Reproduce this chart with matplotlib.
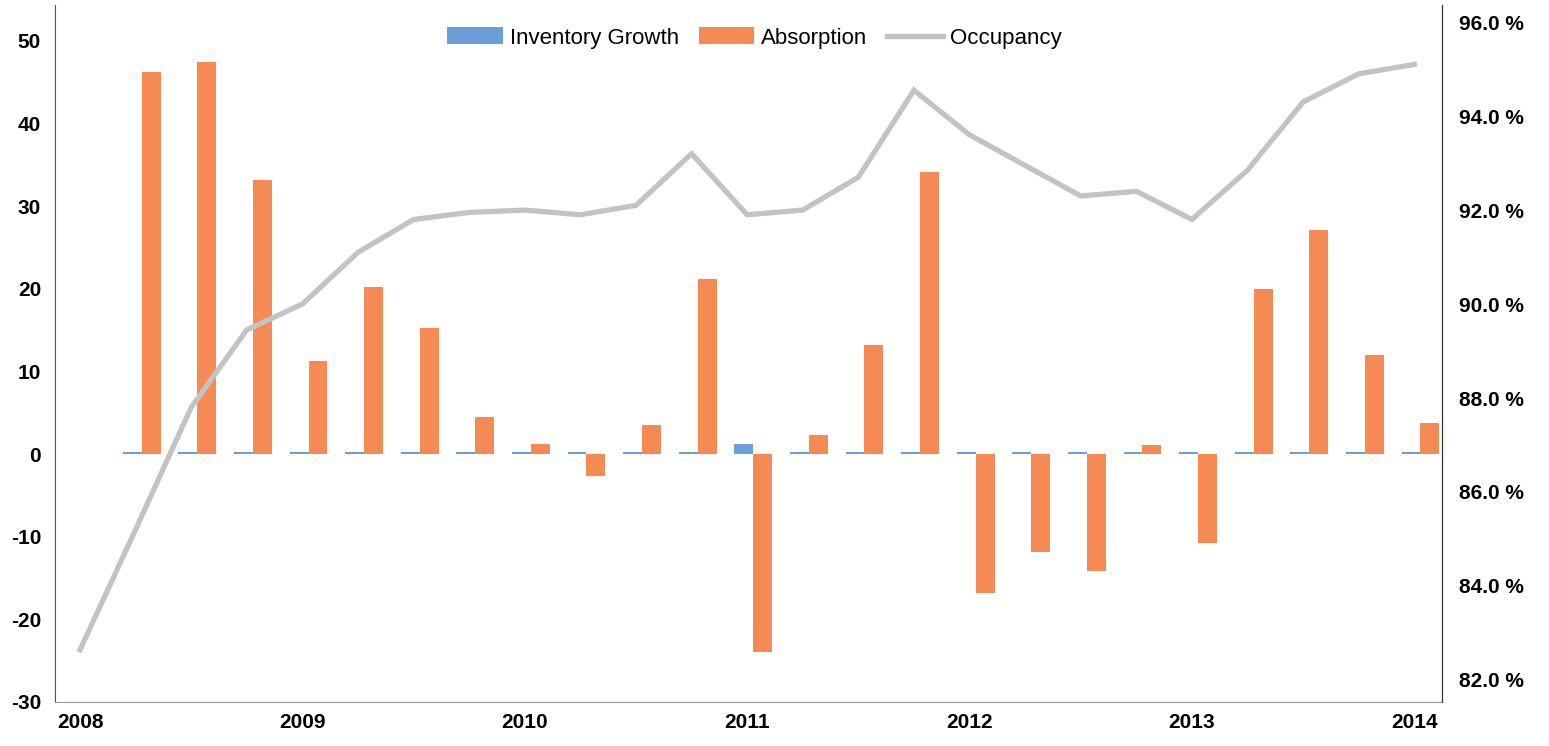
import numpy as np
import matplotlib.pyplot as plt
from matplotlib.ticker import FuncFormatter

plt.rcParams['font.family'] = ['Liberation Sans', 'DejaVu Sans']
plt.rcParams['axes.unicode_minus'] = False

# quarterly data 2008-2013
years = ['2008', '2009', '2010', '2011', '2012', '2013', '2014']
absorption = [46.2, 47.4, 33.1, 11.3, 20.2, 15.2, 4.5, 1.2, -2.6, 3.5, 21.2, -23.9,
              2.3, 13.2, 34.1, -16.8, -11.9, -14.2, 1.1, -10.8, 20.0, 27.1, 12.0, 3.7]
inventory = [0.3, 0.3, 0.3, 0.3, 0.3, 0.3, 0.3, 0.3, 0.2, 0.2, 0.2, 1.2,
             0.3, 0.3, 0.3, 0.2, 0.2, 0.2, 0.2, 0.2, 0.2, 0.2, 0.2, 0.2]
# occupancy, one point per quarter start, 2008 through 2014
occupancy = [82.64, 85.2, 87.8, 89.45, 90.0, 91.1, 91.8, 91.95, 92.0, 91.9, 92.1, 93.2,
             91.9, 92.0, 92.7, 94.55, 93.6, 92.95, 92.3, 92.4, 91.8, 92.85, 94.3, 94.9, 95.1]

fig = plt.figure(figsize=(15.49, 7.46), dpi=100)
ax = fig.add_axes([0.0355, 0.059, 0.8955, 0.934])
ax2 = ax.twinx()

q = np.arange(len(absorption))
w = 0.34
b1 = ax.bar(q + 1.28 - w, inventory, w, color='#6A9FD8', label='Inventory Growth')
b2 = ax.bar(q + 1.28, absorption, w, color='#F68A55', label='Absorption')
l1, = ax2.plot(np.arange(len(occupancy)), occupancy, color='#C3C3C3', lw=3.8,
               label='Occupancy', solid_joinstyle='miter')

ax.set_xlim(-0.45, 24.5)
ax.set_ylim(-30, 54.3)
ax.set_yticks(range(-30, 51, 10))
ax2.set_ylim(81.53, 96.36)
ax2.set_yticks(range(82, 97, 2))
ax2.yaxis.set_major_formatter(FuncFormatter(lambda v, p: '%.1f %%' % v))
ax.set_xticks(range(0, 25, 4))
ax.set_xticklabels(years)

for a in (ax, ax2):
    a.tick_params(length=0, labelsize=15)
    for t in a.get_yticklabels() + a.get_xticklabels():
        t.set_fontweight('bold')
    a.spines['top'].set_visible(False)
ax.tick_params(axis='y', pad=10)
ax.tick_params(axis='x', pad=8)
ax2.tick_params(axis='y', pad=12)
ax.spines['left'].set_color('#5a4a6a')
ax.spines['right'].set_color('#333333')
ax2.spines['right'].set_color('#333333')
ax.spines['bottom'].set_color('#999999')
ax2.spines['left'].set_visible(False)
ax2.spines['bottom'].set_visible(False)

fig.legend(handles=[b1, b2, l1], loc='upper center', bbox_to_anchor=(0.487, 0.99),
           ncol=3, frameon=False, fontsize=16, handlelength=2.5, handleheight=0.8,
           columnspacing=0.9, handletextpad=0.3)

fig.savefig('out.png', dpi=100)
